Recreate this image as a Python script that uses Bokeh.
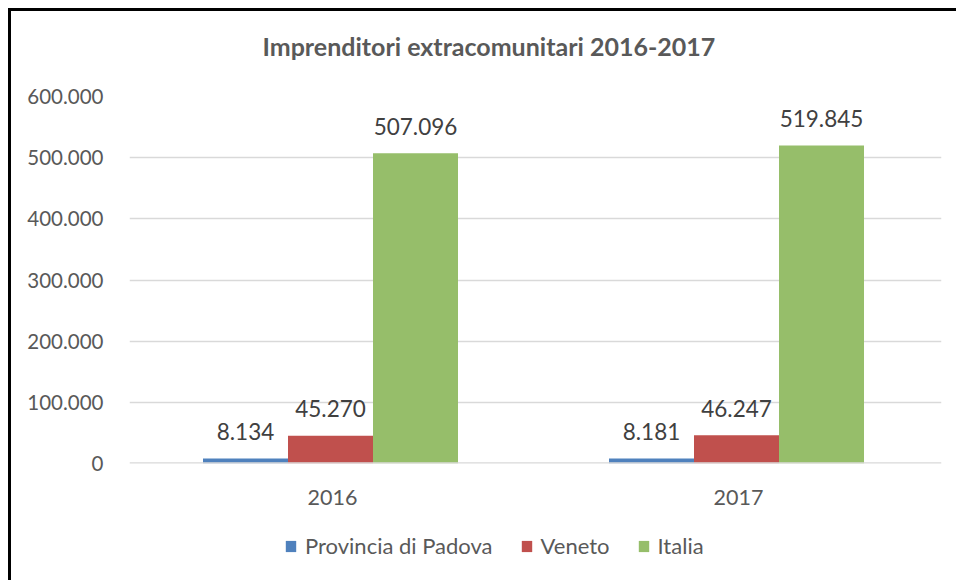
from bokeh.plotting import figure
from bokeh.layouts import column
from bokeh.models import (ColumnDataSource, FactorRange, Range1d, FixedTicker, Legend, LegendItem,
                          Span, Title)
from bokeh.transform import dodge
from bokeh.core.properties import value
from bokeh.embed import file_html
from bokeh.resources import INLINE

# ---- data ----
years = ["2016", "2017"]
padova = [8134, 8181]
veneto = [45270, 46247]
italia = [507096, 519845]
series_names = ["Provincia di Padova", "Veneto", "Italia"]
y_ticks = [0, 100000, 200000, 300000, 400000, 500000, 600000]
y_tick_labels = ["0", "100.000", "200.000", "300.000", "400.000", "500.000", "600.000"]
title_text = "Imprenditori extracomunitari 2016-2017"

colors = ["#4F81BD", "#C0504D", "#96BE6A"]
FONT = "Lato"


def fmt(v):
    return f"{v:,}".replace(",", ".")


src = ColumnDataSource(dict(
    year=years,
    padova=padova, veneto=veneto, italia=italia,
    padova_lbl=[fmt(v) for v in padova],
    veneto_lbl=[fmt(v) for v in veneto],
    italia_lbl=[fmt(v) for v in italia],
))

W = 945
H1, H2 = 515, 54
p = figure(x_range=FactorRange(*years), y_range=Range1d(0, 600000), title=None,
           width=W, height=H1, output_backend="svg", toolbar_location=None,
           min_border_left=118, min_border_right=15, min_border_top=85, min_border_bottom=63)
p.x_range.range_padding = 0
p.outline_line_color = None
p.background_fill_color = "white"
p.border_fill_color = "white"

bw = 85 / 406
shift = -2 / 406
offsets = [-bw + shift, shift, bw + shift]
fields = ["padova", "veneto", "italia"]
for f, off, c in zip(fields, offsets, colors):
    p.vbar(x=dodge("year", off, range=p.x_range), top=f, width=bw, source=src,
           fill_color=c, line_color=None)
    p.text(x=dodge("year", off, range=p.x_range), y=f, text=f + "_lbl", source=src,
           text_align="center", text_baseline="alphabetic", y_offset=-27,
           text_font=value(FONT), text_font_size="22.5px", text_color="#404040")

# axes
p.yaxis.ticker = FixedTicker(ticks=y_ticks)
p.yaxis.major_label_overrides = {t: l for t, l in zip(y_ticks, y_tick_labels)}
for ax in (p.xaxis, p.yaxis):
    ax.axis_line_color = None
    ax.major_tick_line_color = None
    ax.minor_tick_line_color = None
    ax.major_label_text_font = FONT
    ax.major_label_text_color = "#595959"
p.yaxis.major_label_text_font_size = "20.5px"
p.xaxis.major_label_text_font_size = "21.5px"
p.yaxis.major_label_standoff = 20
p.xaxis.major_label_standoff = 20

p.xgrid.grid_line_color = None
p.ygrid.grid_line_color = "#D9D9D9"
p.ygrid.grid_line_width = 1.3
p.add_layout(Span(location=0, dimension="width", line_color="#D9D9D9", line_width=2.5))

# title (spacer first = nearest the frame, then the real title)
p.add_layout(Title(text=" ", text_font_size="1px", standoff=33), "above")
p.add_layout(Title(text=title_text, align="left", offset=133, standoff=0,
                   text_font=FONT, text_font_style="bold", text_font_size="25px",
                   text_color="#595959"), "above")

# legend in its own strip below the chart; its bars lie far outside its visible range
lf = figure(x_range=p.x_range, y_range=Range1d(1e9, 2e9), width=W, height=H2,
            output_backend="svg", toolbar_location=None, x_axis_location=None,
            y_axis_location=None, min_border=0, title=None)
lf.outline_line_color = None
lf.xgrid.grid_line_color = None
lf.ygrid.grid_line_color = None
leg_renderers = []
for f, off, c in zip(fields, offsets, colors):
    leg_renderers.append(lf.vbar(x=dodge("year", off, range=p.x_range), top=f, width=bw, source=src,
                                 fill_color=c, line_color=None))
legend = Legend(items=[LegendItem(label=n, renderers=[r]) for n, r in zip(series_names, leg_renderers)],
                orientation="horizontal", location=(155, 21),
                glyph_width=13, glyph_height=14, label_standoff=8, spacing=27,
                padding=0, margin=0, border_line_color=None, background_fill_alpha=0,
                label_text_font=FONT, label_text_font_size="22px", label_text_color="#595959")
lf.add_layout(legend, "center")

layout = column(p, lf, styles={"margin-left": "8px", "margin-top": "8px",
                               "border-left": "3px solid black", "border-top": "3px solid black"})

open("out.html", "w").write(file_html(layout, INLINE))
